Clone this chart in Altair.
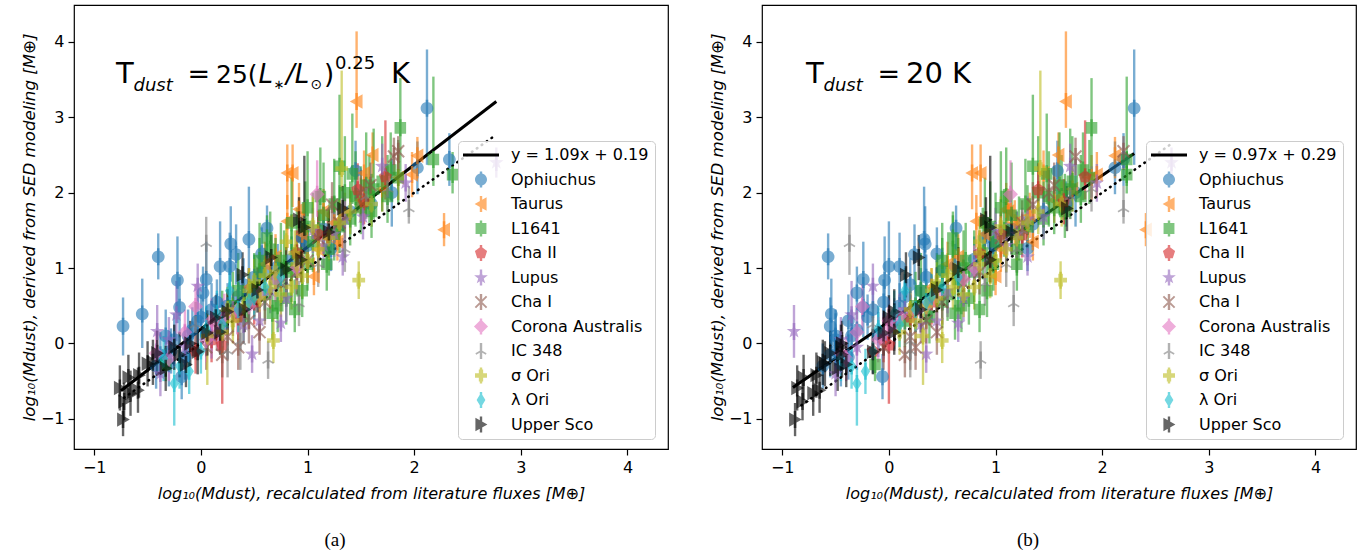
import altair as alt
import pandas as pd

REGIONS = ["Ophiuchus", "Taurus", "L1641", "Cha II", "Lupus", "Cha I",
           "Corona Australis", "IC 348", "σ Ori", "λ Ori", "Upper Sco"]
COLORS = ["#1f77b4", "#ff7f0e", "#2ca02c", "#d62728", "#9467bd", "#8c564b",
          "#e377c2", "#7f7f7f", "#bcbd22", "#17becf", "#000000"]

# each tuple: (x in panel a, x in panel b, y, error down, error up)
OPHIUCHUS = [
    (-0.73, -0.55, 0.23, 0.39, 0.38), (-0.55, -0.54, 0.39, 0.45, 0.47),
    (-0.40, -0.57, 1.15, 0.30, 0.31), (-0.22, -0.04, 0.84, 0.57, 0.58),
    (-0.20, -0.24, 0.48, 0.40, 0.40), (0.02, -0.30, 0.67, 0.35, 0.35),
    (0.28, 0.34, 1.32, 0.50, 0.50), (0.45, 0.33, 1.38, 0.55, 0.70),
    (0.33, 0.24, 1.18, 0.40, 0.40), (0.27, 0.10, 1.02, 0.45, 0.45),
    (0.57, 0.45, 1.19, 0.35, 0.35), (0.62, 0.63, 1.53, 0.30, 0.30),
    (1.22, 1.30, 1.26, 0.30, 0.30), (1.45, 1.58, 2.29, 0.40, 0.40),
    (1.79, 1.75, 2.00, 0.45, 0.45), (2.03, 2.12, 2.33, 0.35, 0.35),
    (2.12, 2.30, 3.12, 0.75, 0.78), (2.33, 2.20, 2.44, 0.35, 0.35),
    (-0.38, -0.55, -0.15, 0.30, 0.30), (-0.30, -0.45, -0.27, 0.30, 0.30),
    (-0.25, -0.50, 0.05, 0.35, 0.35), (-0.18, -0.06, -0.44, 0.30, 0.30),
    (-0.12, -0.35, 0.10, 0.35, 0.35), (-0.08, -0.30, 0.18, 0.30, 0.30),
    (-0.03, -0.38, 0.30, 0.35, 0.35), (0.00, -0.20, 0.35, 0.30, 0.30),
    (0.05, -0.10, 0.12, 0.30, 0.30), (0.10, -0.15, 0.45, 0.35, 0.35),
    (0.15, -0.05, 0.55, 0.30, 0.30), (0.20, 0.05, 0.22, 0.30, 0.30),
    (0.35, 0.15, 0.62, 0.30, 0.30), (0.40, 0.20, 0.78, 0.35, 0.35),
    (0.50, 0.35, 0.88, 0.30, 0.30), (0.60, 0.50, 0.97, 0.30, 0.30),
    (0.72, 0.62, 1.02, 0.30, 0.30), (0.85, 0.80, 1.12, 0.30, 0.30),
    (1.00, 0.98, 1.30, 0.30, 0.30), (1.15, 1.15, 1.52, 0.30, 0.30),
    (1.30, 1.35, 1.58, 0.30, 0.30), (1.60, 1.66, 1.85, 0.30, 0.30),
    (-0.42, -0.62, -0.30, 0.30, 0.30), (-0.33, -0.50, 0.10, 0.35, 0.35),
    (0.05, -0.24, 0.85, 0.50, 0.50), (0.18, 0.00, 1.02, 0.55, 0.60),
    (-0.28, -0.50, -0.10, 0.30, 0.30), (-0.15, -0.38, -0.18, 0.30, 0.30),
    (0.25, 0.10, 0.50, 0.30, 0.30), (0.45, 0.30, 0.70, 0.30, 0.30),
    (0.95, 0.90, 1.40, 0.30, 0.30), (1.40, 1.45, 1.75, 0.30, 0.30),
]
TAURUS = [
    (1.46, 1.66, 3.21, 0.35, 0.93), (0.81, 0.78, 2.26, 0.48, 0.38),
    (0.86, 0.86, 2.26, 0.45, 0.38), (1.61, 1.59, 2.50, 0.30, 0.30),
    (2.03, 2.12, 2.49, 0.30, 0.25), (1.98, 1.95, 2.24, 0.30, 0.30),
    (2.28, 2.41, 1.51, 0.22, 0.22), (1.53, 1.45, 2.26, 0.30, 0.30),
    (1.28, 1.35, 1.35, 0.25, 0.25), (1.06, 1.00, 0.89, 0.25, 0.25),
    (0.81, 0.82, 1.62, 0.35, 0.35), (1.15, 1.12, 1.75, 0.30, 0.30),
    (1.35, 1.32, 1.70, 0.30, 0.30), (0.95, 0.90, 1.45, 0.30, 0.30),
    (0.60, 0.55, 1.05, 0.30, 0.30), (0.45, 0.40, 0.75, 0.25, 0.25),
    (1.70, 1.72, 2.05, 0.30, 0.30), (1.85, 1.90, 2.20, 0.30, 0.30),
    (1.25, 1.18, 1.60, 0.30, 0.30), (1.50, 1.55, 1.90, 0.30, 0.30),
    (0.92, 1.10, 1.78, 0.35, 0.35), (0.70, 0.65, 1.15, 0.30, 0.30),
    (1.10, 1.05, 1.25, 0.30, 0.30),
]
L1641 = [
    (1.87, 1.90, 2.86, 0.58, 0.66), (2.18, 2.23, 2.44, 0.35, 1.10),
    (2.36, 2.23, 2.24, 0.25, 0.30), (0.62, 0.60, 1.40, 0.30, 0.30),
    (-0.33, -0.13, -0.28, 0.22, 0.22), (0.67, 0.62, 0.40, 0.35, 0.35),
    (0.50, 0.45, 0.75, 0.35, 0.45), (0.55, 0.50, 0.95, 0.35, 0.45),
    (0.70, 0.65, 0.85, 0.40, 0.55), (0.75, 0.72, 1.10, 0.35, 0.50),
    (0.80, 0.75, 0.60, 0.35, 0.40), (0.85, 0.80, 0.95, 0.40, 0.55),
    (0.90, 0.88, 1.20, 0.35, 0.60), (1.00, 0.98, 1.05, 0.35, 0.45),
    (1.05, 1.00, 1.35, 0.40, 0.65), (1.10, 1.08, 1.50, 0.35, 0.55),
    (1.15, 1.15, 1.70, 0.40, 0.70), (1.20, 1.20, 1.25, 0.35, 0.50),
    (1.25, 1.28, 1.85, 0.40, 0.60), (1.30, 1.30, 1.55, 0.35, 0.55),
    (1.35, 1.40, 2.00, 0.40, 0.75), (1.40, 1.45, 1.65, 0.35, 0.50),
    (1.45, 1.50, 1.95, 0.40, 0.60), (1.50, 1.55, 1.80, 0.35, 0.55),
    (1.55, 1.60, 2.10, 0.40, 0.70), (1.60, 1.65, 1.75, 0.35, 0.50),
    (1.70, 1.72, 2.15, 0.40, 0.60), (1.75, 1.80, 1.95, 0.35, 0.55),
    (1.85, 1.88, 2.20, 0.35, 0.50), (0.30, 0.25, 0.50, 0.35, 0.45),
    (0.40, 0.38, 0.35, 0.35, 0.40), (0.45, 0.50, 0.55, 0.35, 0.40),
    (0.95, 0.92, 0.70, 0.35, 0.40), (0.65, 0.60, 1.25, 0.35, 0.50),
    (1.00, 1.05, 1.80, 0.40, 0.75), (0.85, 0.90, 1.60, 0.35, 0.60),
    (1.12, 1.10, 1.95, 0.40, 0.65), (0.20, 0.15, 0.30, 0.35, 0.40),
    (1.62, 1.70, 2.05, 0.40, 0.80), (1.30, 1.35, 2.35, 0.45, 0.95),
    (0.78, 0.70, 1.00, 0.40, 0.50), (0.60, 0.55, 0.65, 0.35, 0.45),
    (0.35, 0.30, 0.70, 0.35, 0.50), (0.55, 0.50, 1.10, 0.35, 0.50),
    (0.72, 0.68, 0.50, 0.35, 0.40), (0.98, 0.95, 1.55, 0.40, 0.60),
    (1.18, 1.20, 1.05, 0.35, 0.45), (1.42, 1.48, 2.25, 0.40, 0.80),
    (1.58, 1.62, 1.95, 0.35, 0.55), (1.78, 1.82, 2.30, 0.40, 0.50),
    (0.88, 0.85, 0.45, 0.30, 0.40), (1.25, 1.22, 1.45, 0.35, 0.50),
]
CHA_II = [
    (1.47, 1.40, 2.04, 0.30, 0.35), (1.53, 1.64, 1.88, 0.30, 0.30),
    (1.19, 1.25, 1.44, 0.30, 0.30), (1.73, 1.84, 2.21, 0.30, 0.75),
    (0.20, 0.00, -0.02, 0.78, 0.30), (0.10, -0.05, 0.05, 0.30, 0.30),
    (0.35, 0.20, 0.35, 0.30, 0.30), (0.50, 0.40, 0.55, 0.30, 0.30),
    (0.90, 0.85, 1.20, 0.30, 0.30), (1.10, 1.05, 1.45, 0.30, 0.30),
    (-0.05, -0.15, -0.10, 0.30, 0.30),
]
LUPUS = [
    (2.77, 2.65, 2.40, 0.20, 0.20), (-0.41, -0.89, 0.16, 0.35, 0.35),
    (-0.23, -0.35, 0.38, 0.35, 0.45), (-0.03, -0.15, 0.76, 0.30, 0.30),
    (0.48, 0.35, -0.14, 0.25, 0.25), (1.33, 1.30, 1.15, 0.25, 0.25),
    (1.52, 1.45, 1.68, 0.30, 0.30), (1.92, 1.95, 2.13, 0.25, 0.25),
    (0.75, 0.65, 0.27, 0.25, 0.25), (0.55, 0.45, 0.30, 0.25, 0.25),
    (0.30, 0.15, 0.45, 0.30, 0.30), (0.10, -0.05, 0.10, 0.30, 0.30),
    (-0.38, -0.50, -0.40, 0.30, 0.30), (0.90, 0.80, 0.95, 0.30, 0.30),
    (1.15, 1.10, 1.30, 0.30, 0.30), (1.35, 1.30, 1.65, 0.30, 0.30),
    (1.70, 1.70, 2.35, 0.30, 0.30), (0.65, 0.55, 0.70, 0.30, 0.30),
    (1.05, 1.00, 1.50, 0.30, 0.30), (0.40, 0.30, 0.25, 0.25, 0.25),
    (-0.15, -0.30, -0.05, 0.30, 0.30), (0.20, 0.05, 0.30, 0.30, 0.30),
    (0.80, 0.70, 0.60, 0.30, 0.30), (1.25, 1.20, 1.45, 0.30, 0.30),
    (-0.30, -0.45, 0.05, 0.30, 0.30),
]
CHA_I = [
    (1.81, 1.75, 2.48, 0.25, 0.25), (1.85, 2.20, 2.55, 0.25, 0.20),
    (1.59, 1.55, 2.10, 0.30, 0.30), (1.23, 1.35, 1.84, 0.30, 0.30),
    (0.25, 0.20, 0.09, 0.30, 0.30), (0.15, 0.05, 0.20, 0.30, 0.30),
    (0.35, 0.25, -0.05, 0.30, 0.30), (0.45, 0.35, 0.30, 0.30, 0.30),
    (0.60, 0.50, 0.55, 0.30, 0.30), (0.90, 0.85, 0.95, 0.30, 0.30),
    (1.10, 1.05, 1.40, 0.30, 0.30), (1.30, 1.25, 1.60, 0.30, 0.30),
    (0.20, 0.15, -0.15, 0.30, 0.30), (0.55, 0.45, 0.15, 0.30, 0.30),
    (1.50, 1.50, 2.00, 0.30, 0.30), (0.05, -0.05, -0.05, 0.30, 0.30),
    (0.75, 0.70, 0.80, 0.30, 0.30), (1.00, 0.95, 1.10, 0.30, 0.30),
    (0.30, 0.20, 0.40, 0.30, 0.30),
]
CORONA_AUSTRALIS = [
    (1.09, 1.14, 1.98, 0.30, 0.45), (-0.42, -0.45, -0.13, 0.30, 0.30),
    (-0.05, -0.25, 0.49, 0.30, 0.30), (0.16, 0.00, 0.20, 0.30, 0.30),
    (0.22, 0.10, 0.36, 0.30, 0.30), (0.34, 0.25, 0.42, 0.30, 0.30),
    (0.05, -0.10, 0.05, 0.30, 0.30), (-0.30, -0.40, -0.20, 0.30, 0.30),
    (0.70, 0.70, 0.85, 0.30, 0.30), (0.90, 0.80, 1.00, 0.30, 0.30),
    (0.10, 0.00, 0.30, 0.30, 0.30), (0.55, 0.45, 0.65, 0.30, 0.30),
    (0.45, 0.35, 0.50, 0.30, 0.30), (-0.15, -0.30, 0.15, 0.30, 0.30),
]
IC_348 = [
    (0.05, -0.37, 1.33, 0.42, 0.35), (0.37, 0.20, 0.03, 0.38, 0.38),
    (0.63, 0.86, -0.22, 0.25, 0.25), (0.92, 1.17, 0.53, 0.30, 0.30),
    (1.95, 2.20, 1.79, 0.20, 0.30), (0.80, 0.90, 0.80, 0.30, 0.30),
    (1.20, 1.25, 1.50, 0.30, 0.30), (0.50, 0.55, 0.65, 0.30, 0.30),
    (1.55, 1.70, 1.95, 0.30, 0.30), (1.75, 1.90, 2.05, 0.30, 0.30),
    (1.10, 1.10, 1.05, 0.30, 0.30), (-0.05, -0.15, 0.25, 0.30, 0.30),
    (0.25, 0.20, -0.10, 0.35, 0.35), (1.35, 1.20, 1.25, 0.30, 0.30),
]
SIGMA_ORI = [
    (1.32, 1.42, 2.32, 0.30, 1.30), (1.48, 1.61, 0.84, 0.25, 0.25),
    (0.68, 0.50, 0.04, 0.30, 0.30), (0.06, 0.32, 0.10, 0.65, 0.30),
    (0.85, 0.80, 0.75, 0.30, 0.30), (0.90, 0.85, 1.05, 0.30, 0.30),
    (1.00, 1.00, 1.10, 0.30, 0.30), (0.60, 0.55, 0.90, 0.30, 0.30),
    (0.55, 0.45, 0.60, 0.30, 0.30), (0.75, 0.70, 0.65, 0.30, 0.30),
    (1.20, 1.20, 1.40, 0.30, 0.30), (1.40, 1.40, 1.75, 0.30, 0.30),
    (1.60, 1.62, 1.85, 0.30, 0.30), (0.40, 0.35, 0.50, 0.30, 0.30),
    (0.25, 0.20, 0.45, 0.30, 0.30), (0.95, 0.95, 0.90, 0.30, 0.30),
    (1.10, 1.10, 1.25, 0.30, 0.30), (0.80, 0.85, 1.35, 0.30, 0.30),
    (0.30, 0.25, 0.30, 0.30, 0.30), (0.50, 0.45, 0.82, 0.30, 0.30),
    (0.70, 0.62, 0.95, 0.30, 0.30), (0.45, 0.40, 0.70, 0.30, 0.30),
    (0.65, 0.60, 0.75, 0.30, 0.30), (0.88, 0.85, 1.20, 0.30, 0.30),
    (1.05, 1.05, 1.55, 0.30, 0.40), (1.30, 1.30, 1.60, 0.30, 0.30),
    (0.20, 0.10, 0.15, 0.30, 0.30),
]
LAMBDA_ORI = [
    (-0.25, -0.30, -0.53, 0.56, 0.22), (-0.11, -0.22, -0.37, 0.30, 0.30),
    (0.27, 0.15, 0.70, 0.30, 0.30), (0.45, 0.35, 0.55, 0.30, 0.30),
    (0.15, 0.05, 0.40, 0.30, 0.30), (0.05, -0.10, 0.20, 0.30, 0.30),
    (-0.20, -0.35, -0.30, 0.30, 0.30), (0.60, 0.50, 0.75, 0.30, 0.30),
    (0.35, 0.25, 0.45, 0.30, 0.30), (-0.35, -0.45, -0.20, 0.30, 0.30),
    (0.00, -0.15, -0.10, 0.30, 0.30), (0.75, 0.65, 0.88, 0.30, 0.30),
    (0.20, 0.10, 0.25, 0.30, 0.30), (0.50, 0.40, 0.62, 0.30, 0.30),
]
UPPER_SCO = [
    (-0.73, -0.88, -1.01, 0.22, 0.22), (-0.72, -0.81, -0.77, 0.25, 0.25),
    (-0.76, -0.86, -0.59, 0.30, 0.30), (-0.66, -0.71, -0.66, 0.30, 0.30),
    (-0.59, -0.65, -0.62, 0.30, 0.30), (-0.58, -0.68, -0.42, 0.30, 0.30),
    (-0.50, -0.60, -0.27, 0.30, 0.30), (-0.41, -0.55, -0.13, 0.30, 0.30),
    (-0.33, -0.48, -0.33, 0.30, 0.30), (-0.20, -0.44, -0.15, 0.30, 0.30),
    (-0.14, -0.40, -0.28, 0.30, 0.30), (-0.10, -0.44, 0.00, 0.30, 0.30),
    (-0.03, -0.15, -0.11, 0.30, 0.30), (0.06, -0.05, 0.14, 0.30, 0.30),
    (0.14, 0.00, 0.34, 0.30, 0.30), (0.18, 0.05, 0.15, 0.30, 0.30),
    (0.39, 0.16, 0.91, 0.30, 0.30), (0.41, 0.30, 0.45, 0.30, 0.30),
    (0.66, 0.28, 1.14, 0.30, 0.30), (0.92, 0.91, 1.64, 0.30, 0.30),
    (0.97, 0.95, 1.54, 0.35, 0.95), (1.33, 1.67, 1.79, 0.30, 0.30),
    (0.94, 0.95, 1.11, 0.30, 0.30), (0.53, 0.45, 0.71, 0.30, 0.30),
    (-0.68, -0.80, -0.45, 0.30, 0.30), (-0.45, -0.62, -0.25, 0.30, 0.30),
    (-0.25, -0.45, -0.05, 0.30, 0.30), (0.25, 0.05, 0.42, 0.30, 0.30),
    (0.80, 0.65, 0.98, 0.30, 0.30), (1.20, 1.15, 1.48, 0.30, 0.30),
]
REGION_POINTS = [OPHIUCHUS, TAURUS, L1641, CHA_II, LUPUS, CHA_I,
                 CORONA_AUSTRALIS, IC_348, SIGMA_ORI, LAMBDA_ORI, UPPER_SCO]

FIT_LABELS = ["y = 1.09x + 0.19", "y = 0.97x + 0.29"]
FIT_SLOPES = [1.09, 0.97]
FIT_INTERCEPTS = [0.19, 0.29]
FIT_X_A = [-0.75, 2.77]
FIT_X_B = [-0.90, 2.30]
ONE_X_A = [-0.72, 2.75]
ONE_X_B = [-0.82, 2.63]
TICKS = [-1, 0, 1, 2, 3, 4]
X_DOMAIN = [-1.19, 4.38]
Y_DOMAIN = [-1.40, 4.49]
X_TITLE = "log₁₀(Mdust), recalculated from literature fluxes [M⊕]"
Y_TITLE = "log₁₀(Mdust), derived from SED modeling [M⊕]"

# marker outlines (unit = 8 px at size 256); a short vertical bar mimics the legend error bar
BAR = "M-0.15,-1H0.15V1H-0.15Z"
SHAPES = [
    "M-0.75,0A0.75,0.75,0,1,1,0.75,0A0.75,0.75,0,1,1,-0.75,0Z",
    "M-0.8,0L0.7,-0.85L0.7,0.85Z",
    "M-0.68,-0.68H0.68V0.68H-0.68Z",
    "M0,-0.8L0.761,-0.247L0.47,0.647L-0.47,0.647L-0.761,-0.247Z",
    "M0,-0.9L0.212,-0.291L0.856,-0.278L0.342,0.111L0.529,0.728L0,0.36L-0.529,0.728L-0.342,0.111L-0.856,-0.278L-0.212,-0.291Z",
    "M-0.615,-0.785L0.785,0.615L0.615,0.785L-0.785,-0.615Z M0.785,-0.615L-0.615,0.785L-0.785,0.615L0.615,-0.785Z",
    "M0,-0.88L0.88,0L0,0.88L-0.88,0Z",
    "M-0.1,-0.75H0.1V0H-0.1Z M0.05,0.087L-0.6,0.462L-0.7,0.288L-0.05,-0.087Z M0.05,-0.087L0.7,0.288L0.6,0.462L-0.05,0.087Z",
    "M-0.27,-0.75H0.27V-0.27H0.75V0.27H0.27V0.75H-0.27V0.27H-0.75V-0.27H-0.27Z",
    "M0,-0.9L0.55,0L0,0.9L-0.55,0Z",
    "M0.8,0L-0.7,0.85L-0.7,-0.85Z",
]
SHAPES = [s + " " + BAR for s in SHAPES]
LINE_PATH = "M-2.25,-0.2H2.25V0.2H-2.25Z"

rows = []
for name, pts in zip(REGIONS, REGION_POINTS):
    for xa, xb, y, lo, hi in pts:
        rows.append({"region": name, "bar_region": name, "xa": xa, "xb": xb,
                     "y": y, "ylo": y - lo, "yhi": y + hi})
df = pd.DataFrame(rows)

XS = alt.Scale(domain=X_DOMAIN, nice=False, zero=False)
YS = alt.Scale(domain=Y_DOMAIN, nice=False, zero=False)
XAX = alt.Axis(values=TICKS, title=X_TITLE, titlePadding=10, format="d")
YAX = alt.Axis(values=TICKS, title=Y_TITLE, titlePadding=3, format="d",
               titleFontSize=16.6)


def X(f):
    return alt.X(f, type="quantitative", scale=XS, axis=XAX)


def Y(f):
    return alt.Y(f, type="quantitative", scale=YS, axis=YAX)


# annotation pieces: text, x px, baseline px (inside the plot), font size, style
ANN_A = [("T", 42.0, 78.0, 29, "normal"), ("dust", 59.5, 85.5, 18, "italic"),
         ("=", 113.5, 78.0, 27, "normal"), ("25(", 142.0, 78.0, 25, "normal"),
         ("L", 184.5, 78.0, 26, "italic"), ("∗", 199.5, 84.0, 13, "normal"),
         ("/L", 212.0, 78.0, 26, "italic"), ("⊙", 236.5, 84.0, 14, "normal"),
         (")", 250.0, 78.0, 26, "normal"), ("0.25", 261.0, 63.5, 18, "normal"),
         ("K", 317.0, 78.0, 29, "normal")]
ANN_B = [("T", 44.0, 78.0, 29, "normal"), ("dust", 61.5, 85.5, 18, "italic"),
         ("=", 115.5, 78.0, 27, "normal"), ("20 K", 144.0, 78.0, 29, "normal")]


def panel(xcol, fit_label, slope, icpt, fit_x, one_x, ann, caption, cap_dx):
    dom = [fit_label] + REGIONS
    cs = alt.Scale(domain=dom, range=["#000000"] + COLORS)
    bs = alt.Scale(domain=REGIONS, range=COLORS)
    ss = alt.Scale(domain=dom, range=[LINE_PATH] + SHAPES)
    leg = alt.Legend(title=None, orient="none", legendX=384, legendY=136,
                     symbolSize=256, symbolStrokeWidth=0,
                     symbolOpacity=alt.ExprRef(
                         expr=f"datum.value === '{fit_label}' ? 1 : 0.6"),
                     labelFont="DejaVu Sans", labelFontSize=16, labelColor="black",
                     padding=6, rowPadding=8.5, symbolOffset=9, labelOffset=22,
                     fillColor="rgba(255,255,255,0.8)", strokeColor="#cccccc",
                     cornerRadius=4)
    base = alt.Chart(df)
    bars = base.mark_rule(strokeWidth=2.4, opacity=0.6).encode(
        x=X(xcol), y=Y("ylo"), y2="yhi:Q",
        stroke=alt.Stroke("bar_region:N", scale=bs, legend=None))
    pts = base.mark_point(filled=True, size=289, strokeWidth=0, opacity=0.6).encode(
        x=X(xcol), y=Y("y"),
        color=alt.Color("region:N", scale=cs, legend=leg),
        shape=alt.Shape("region:N", scale=ss, legend=leg))
    fit = alt.Chart(pd.DataFrame({"fx": fit_x})).transform_calculate(
        fy=f"{slope}*datum.fx+{icpt}").mark_line(
        color="black", strokeWidth=3).encode(x=X("fx"), y=Y("fy"))
    one = alt.Chart(pd.DataFrame({"ox": one_x})).transform_calculate(
        oy="datum.ox").mark_line(
        color="black", strokeWidth=2.6, strokeDash=[0.5, 5.5], strokeCap="round"
    ).encode(x=X("ox"), y=Y("oy"))
    texts = []
    for t, px, py, fs, st in ann:
        texts.append(alt.Chart(pd.DataFrame({"t": [t]})).mark_text(
            align="left", baseline="alphabetic", font="DejaVu Sans",
            fontSize=fs, fontStyle=st, color="black").encode(
            text="t:N", x=alt.value(px), y=alt.value(py)))
    return alt.layer(bars, one, fit, pts, *texts).properties(
        width=594, height=444,
        title=alt.TitleParams(caption, orient="bottom", anchor="middle",
                              font="Liberation Serif", fontSize=19,
                              fontWeight="normal", color="black",
                              offset=30, dx=cap_dx))


pa = panel("xa", FIT_LABELS[0], FIT_SLOPES[0], FIT_INTERCEPTS[0], FIT_X_A, ONE_X_A,
           ANN_A, "(a)", -36)
pb = panel("xb", FIT_LABELS[1], FIT_SLOPES[1], FIT_INTERCEPTS[1], FIT_X_B, ONE_X_B,
           ANN_B, "(b)", -31)

chart = alt.hconcat(pa, pb, spacing=39).resolve_scale(
    color="independent", shape="independent", stroke="independent"
).resolve_legend(
    color="independent", shape="independent"
).properties(
    padding={"left": 20, "top": 4, "right": 5, "bottom": 0}
).configure_view(
    stroke="black", strokeWidth=1.2
).configure_axis(
    grid=False, domain=False, tickColor="black", tickSize=6, tickWidth=1.2,
    labelFont="DejaVu Sans", labelFontSize=16, labelColor="black", labelPadding=4,
    titleFont="DejaVu Sans", titleFontSize=16, titleFontStyle="italic",
    titleFontWeight="normal", titleColor="black"
)

chart.save("out.html", embed_options={"renderer": "svg", "actions": False})
